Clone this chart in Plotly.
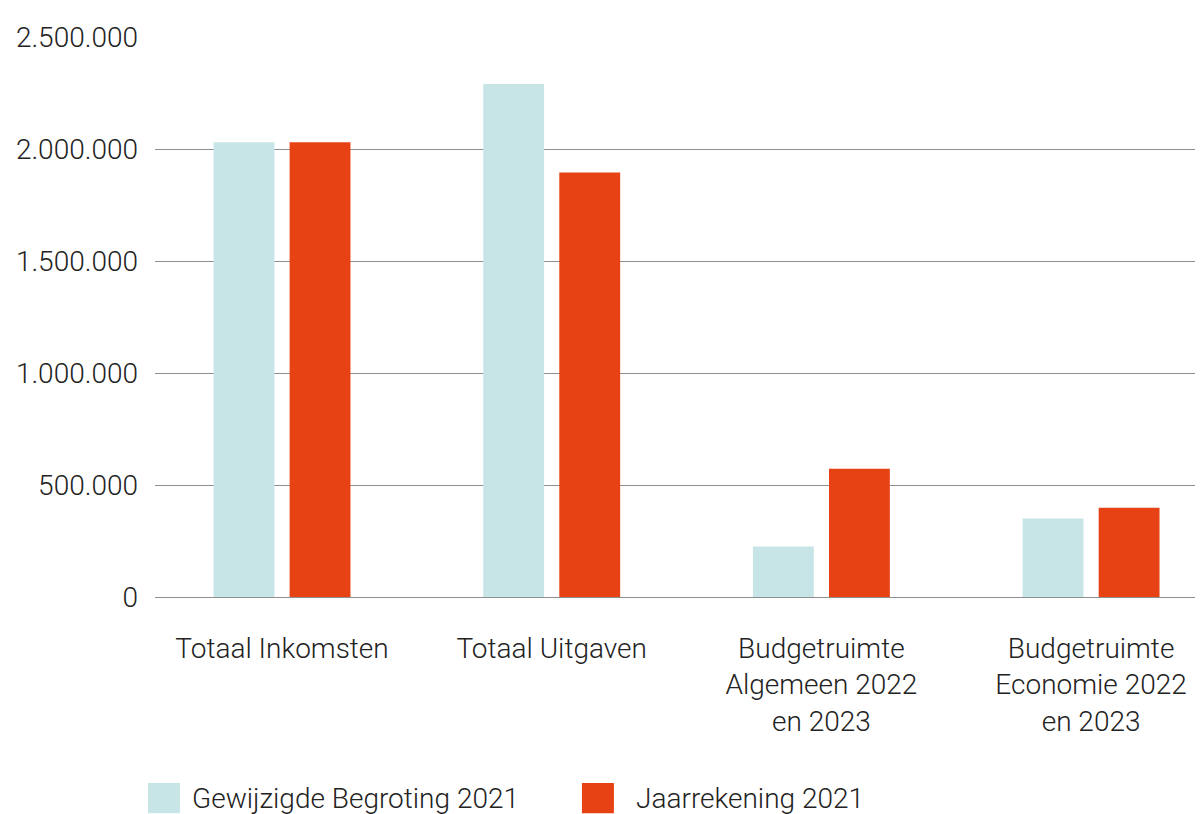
import plotly.graph_objects as go

categories = ["Totaal Inkomsten", "Totaal Uitgaven",
              "Budgetruimte<br>Algemeen 2022<br>en 2023",
              "Budgetruimte<br>Economie 2022<br>en 2023"]
begroting = [2030000, 2290000, 225000, 350000]
jaarrekening = [2030000, 1895000, 572000, 398000]
tick_vals = [0, 500000, 1000000, 1500000, 2000000, 2500000]
tick_text = ["0", "500.000", "1.000.000", "1.500.000", "2.000.000", "2.500.000"]
series_names = ["Gewijzigde Begroting 2021", "Jaarrekening 2021"]
colors = ["#c7e5e7", "#e64213"]

FONT = "Roboto"
TXT = "#222222"

fig = go.Figure()
fig.add_trace(go.Bar(x=categories, y=begroting, name=series_names[0],
                     marker=dict(color=colors[0], line=dict(width=0))))
fig.add_trace(go.Bar(x=categories, y=jaarrekening, name=series_names[1],
                     marker=dict(color=colors[1], line=dict(width=0))))

# legend drawn with big swatches (paper coordinates)
legend_items = [(-0.0067, 0.0334, series_names[0], colors[0]),
                (0.4074, 0.4570, series_names[1], colors[1])]
for x0, xt, name, col in legend_items:
    fig.add_shape(type="rect", xref="paper", yref="paper",
                  x0=x0, x1=x0 + 0.0305, y0=-0.386, y1=-0.332,
                  fillcolor=col, line=dict(width=0))
    fig.add_annotation(xref="paper", yref="paper", x=xt, y=-0.359,
                       text=name, showarrow=False, xanchor="left", yanchor="middle",
                       font=dict(family=FONT, size=28, color=TXT, weight=300))

fig.update_layout(
    width=1195, height=806,
    margin=dict(l=147, r=0, t=29, b=217),
    paper_bgcolor="white", plot_bgcolor="white",
    barmode="group", bargap=0.436, bargroupgap=0.2,
    showlegend=False,
    font=dict(family=FONT, size=28, color=TXT, weight=300),
    xaxis=dict(showgrid=False, showline=False, ticks="", ticklabelstandoff=32,
               range=[-0.471, 3.415],
               tickfont=dict(family=FONT, size=28, color=TXT, weight=300)),
    yaxis=dict(range=[0, 2500000], tickvals=tick_vals, ticktext=tick_text,
               showgrid=True, gridcolor="#8f8f8f", gridwidth=1.3,
               zeroline=True, zerolinecolor="#8f8f8f", zerolinewidth=1.3,
               showline=False, ticks="", ticklabelstandoff=16,
               tickfont=dict(family=FONT, size=28, color=TXT, weight=300)),
)

fig.write_html("out.html")
